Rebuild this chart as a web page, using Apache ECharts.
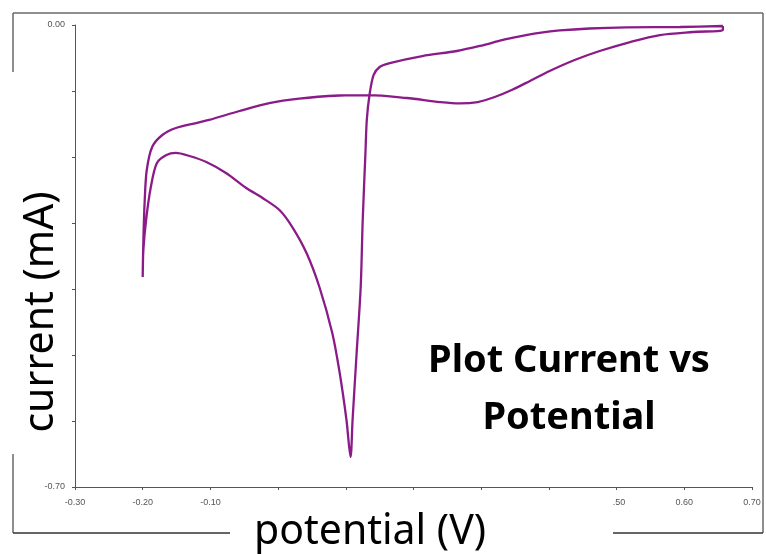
<!DOCTYPE html>
<html>
<head>
<meta charset="utf-8">
<script src="https://cdn.jsdelivr.net/npm/echarts@6/dist/echarts.min.js"></script>
<style>
html,body{margin:0;padding:0;background:#fff;}
#chart{width:766px;height:554px;}
</style>
</head>
<body>
<div id="chart"></div>
<script>
// Cyclic voltammogram trace, in drawing order (potential in V, current in mA)
const potential = [
  0.657, 0.594, 0.515, 0.460, 0.416, 0.386, 0.357, 0.332, 0.298, 0.264, 0.213, 0.165, 0.150, 0.141, 0.135, 0.131, 0.129, 0.125, 0.122, 0.116, 0.110, 0.107,
  0.101, 0.091, 0.080, 0.061, 0.042, 0.021, 0.002, -0.023, -0.047, -0.077, -0.106, -0.131, -0.151, -0.165, -0.179, -0.188, -0.195, -0.199, -0.200,
  -0.199, -0.197, -0.194, -0.186, -0.171, -0.151, -0.121, -0.102, -0.057, -0.013, 0.031, 0.091, 0.135, 0.190, 0.239, 0.268, 0.295, 0.320, 0.345, 0.372, 0.401, 0.438, 0.475, 0.520, 0.564, 0.613, 0.657, 0.657
];
const current = [
  -0.0015, -0.0030, -0.0035, -0.0053, -0.0083, -0.0121, -0.0174, -0.0227, -0.0318, -0.0394, -0.0470, -0.0576, -0.0636, -0.0758, -0.1061, -0.1439, -0.1939, -0.2955, -0.3970, -0.4970, -0.5985, -0.6545,
  -0.5985, -0.5273, -0.4667, -0.3970, -0.3455, -0.3061, -0.2803, -0.2621, -0.2470, -0.2242, -0.2076, -0.1985, -0.1939, -0.1970, -0.2091, -0.2455, -0.2955, -0.3409, -0.3818,
  -0.3258, -0.2652, -0.2197, -0.1848, -0.1667, -0.1561, -0.1485, -0.1439, -0.1303, -0.1182, -0.1114, -0.1068, -0.1061, -0.1106, -0.1167, -0.1189, -0.1167, -0.1091, -0.0985, -0.0848, -0.0697, -0.0530, -0.0394, -0.0258, -0.0152, -0.0106, -0.0076, -0.0015
];
const xTickMin = -0.3, xTickMax = 0.7, xTickStep = 0.1;
const yTickMin = -0.7, yTickMax = 0, yTickStep = 0.1;
const xTitle = 'potential (V)';
const yTitle = 'current (mA)';
const plotTitle = ['Plot Current vs', 'Potential'];

const chart = echarts.init(document.getElementById('chart'), null, {renderer: 'canvas'});
const pts = potential.map((p, i) => [p, current[i]]);
const borderColor = '#6a6a6a';
const fontMain = '"Noto Sans", "Open Sans", sans-serif';

chart.setOption({
  animation: false,
  backgroundColor: '#ffffff',
  grid: {left: 75, top: 25, right: 14, bottom: 67, containLabel: false},
  xAxis: {
    type: 'value', min: xTickMin, max: xTickMax, interval: xTickStep,
    axisLine: {show: true, onZero: false, lineStyle: {color: '#555', width: 1}},
    axisTick: {show: true, length: 3, lineStyle: {color: '#555'}},
    splitLine: {show: false},
    axisLabel: {color: '#555', fontSize: 9, margin: 11, fontFamily: 'Liberation Sans, sans-serif',
      formatter: v => v.toFixed(2)}
  },
  yAxis: {
    type: 'value', min: yTickMin, max: yTickMax, interval: yTickStep,
    axisLine: {show: true, onZero: false, lineStyle: {color: '#555', width: 1}},
    axisTick: {show: true, length: 3, lineStyle: {color: '#555'}},
    splitLine: {show: false},
    axisLabel: {color: '#555', fontSize: 9, margin: 10, fontFamily: 'Liberation Sans, sans-serif',
      formatter: v => v.toFixed(2)}
  },
  series: [{
    type: 'line', data: pts, showSymbol: false, smooth: 0.3,
    lineStyle: {color: '#8a1b88', width: 2.3}
  }],
  graphic: [
    {type: 'line', z: -1, shape: {x1: 13, y1: 13, x2: 763, y2: 13}, style: {stroke: borderColor, lineWidth: 1.5}},
    {type: 'line', z: -1, shape: {x1: 763, y1: 13, x2: 763, y2: 533}, style: {stroke: borderColor, lineWidth: 1.5}},
    {type: 'line', z: -1, shape: {x1: 13, y1: 13, x2: 13, y2: 533}, style: {stroke: borderColor, lineWidth: 1.5}},
    {type: 'line', z: -1, shape: {x1: 13, y1: 533, x2: 763, y2: 533}, style: {stroke: '#333', lineWidth: 1.5}},
    {type: 'rect', z: 100, shape: {x: 0, y: 72, width: 69, height: 382}, style: {fill: '#ffffff'}},
    {type: 'rect', z: 100, shape: {x: 230, y: 492, width: 383, height: 62}, style: {fill: '#ffffff'}},
    {type: 'text', z: 101, x: 41, y: 312, rotation: Math.PI / 2,
      style: {text: yTitle, fill: '#000', font: '41px ' + fontMain, align: 'center', verticalAlign: 'middle'}},
    {type: 'text', z: 101, x: 370, y: 532,
      style: {text: xTitle, fill: '#000', font: '41px ' + fontMain, align: 'center', verticalAlign: 'middle'}},
    {type: 'text', z: 101, x: 569, y: 361,
      style: {text: plotTitle[0], fill: '#000', font: 'bold 38px ' + fontMain, align: 'center', verticalAlign: 'middle'}},
    {type: 'text', z: 101, x: 569, y: 418,
      style: {text: plotTitle[1], fill: '#000', font: 'bold 38px ' + fontMain, align: 'center', verticalAlign: 'middle'}}
  ]
});
</script>
</body>
</html>
